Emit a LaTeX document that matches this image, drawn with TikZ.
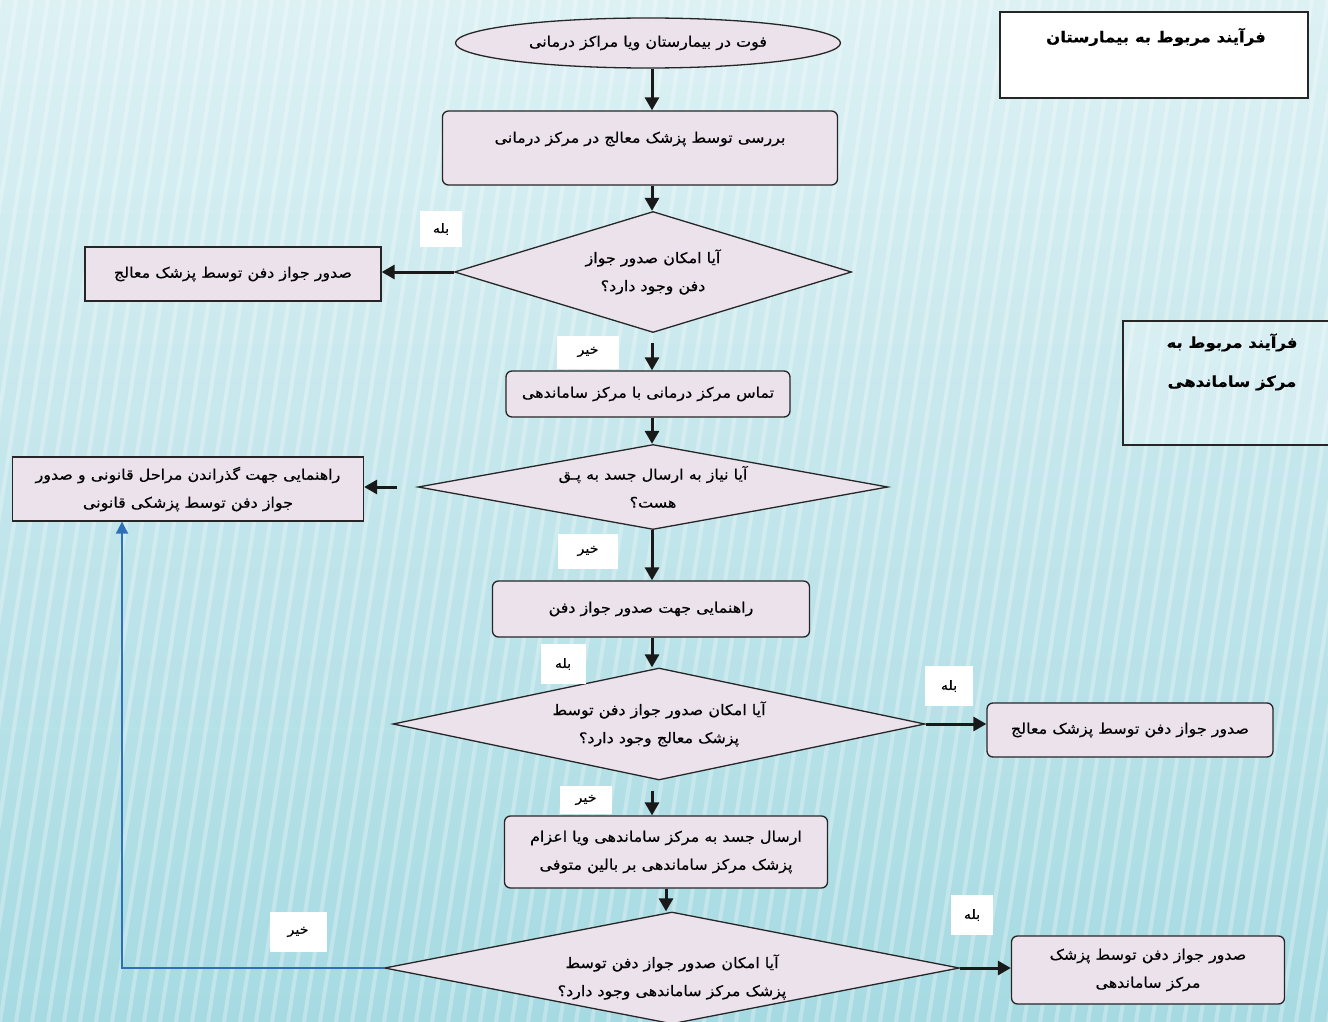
\documentclass[tikz,border=0pt]{standalone}
\usepackage{fontspec}
\usetikzlibrary{shapes.geometric,arrows.meta}
\TeXXeTstate=1
\newfontfamily\fa[Script=Arabic,FakeStretch=1.1,FakeBold=0.4]{DejaVu Sans}
\newcommand{\fat}[1]{{\fa\beginR #1\endR}}
\definecolor{nodefill}{HTML}{ECE2EC}
\definecolor{bgtop}{HTML}{DDF1F4}
\definecolor{bgbot}{HTML}{A6DAE2}
\definecolor{linkblue}{HTML}{2F6FB5}
\begin{document}
\begin{tikzpicture}[x=1pt,y=-1pt,
  txt/.style={font=\fontsize{14.5}{28}\selectfont},
  proc/.style={draw=black!85, line width=1.3pt, fill=nodefill, rounded corners=6pt,
    inner sep=0pt, txt, align=center},
  sqbox/.style={proc, rounded corners=0pt},
  decision/.style={diamond, draw=black!85, line width=1.3pt, fill=nodefill, inner sep=0pt,
    txt, align=center},
  lbl/.style={fill=white, inner sep=0pt, font=\fontsize{13}{15}\selectfont},
  flow/.style={line width=3pt, draw=black!90, -{Triangle[length=13pt,width=14pt]}},
  bflow/.style={line width=2pt, draw=linkblue, -{Triangle[length=12pt,width=12pt]}},
  titlebox/.style={draw=black!85, line width=1.3pt}
]
\useasboundingbox (0,0) rectangle (1328,1022);
% background
\shade[top color=bgtop, bottom color=bgbot] (0,0) rectangle (1328,1022);
\foreach \x in {-240,-224,...,1560} {
  \draw[white, opacity=0.28, line width=4pt] (\x,0) -- (\x-160,1022);
}
\coordinate (ax) at (652,0);
\coordinate (bturn) at (122,966);

% nodes
\node[ellipse, draw=black!85, line width=1.3pt, fill=nodefill, inner sep=0pt,
  minimum width=385pt, minimum height=50pt, txt]
  (e1) at (648,43) {\fat{فوت در بیمارستان ویا مراکز درمانی}};
\node[proc, minimum width=395pt, minimum height=74pt] (b1) at (640,148) {};
\node[txt, inner sep=0pt] (b1t) at (640,139)
  {\fat{بررسی توسط پزشک معالج در مرکز درمانی}};

\node[decision, minimum width=397pt, minimum height=121pt, aspect=3.3] (d1) at (653,272)
  {\fat{آیا امکان صدور جواز}\\\fat{دفن وجود دارد؟}};
\node[sqbox, minimum width=296pt, minimum height=54pt] (l1) at (233,274)
  {\fat{صدور جواز دفن توسط پزشک معالج}};

\node[proc, minimum width=284pt, minimum height=46pt] (b2) at (648,394)
  {\fat{تماس مرکز درمانی با مرکز ساماندهی}};

\node[decision, minimum width=470pt, minimum height=85pt, aspect=5.5] (d2) at (653,487)
  {\fat{آیا نیاز به ارسال جسد به پـق}\\\fat{هست؟}};
\node[sqbox, minimum width=351pt, minimum height=64pt] (l2) at (188,489)
  {\fat{راهنمایی جهت گذراندن مراحل قانونی و صدور}\\\fat{جواز دفن توسط پزشکی قانونی}};

\node[proc, minimum width=317pt, minimum height=56pt] (b3) at (651,609)
  {\fat{راهنمایی جهت صدور جواز دفن}};

\node[decision, minimum width=532pt, minimum height=112pt, aspect=4.75] (d3) at (659,724)
  {\fat{آیا امکان صدور جواز دفن توسط}\\\fat{پزشک معالج وجود دارد؟}};
\node[proc, minimum width=286pt, minimum height=54pt] (r3) at (1130,730)
  {\fat{صدور جواز دفن توسط پزشک معالج}};

\node[proc, minimum width=323pt, minimum height=72pt] (b4) at (666,852)
  {\fat{ارسال جسد به مرکز ساماندهی ویا اعزام}\\\fat{پزشک مرکز ساماندهی بر بالین متوفی}};

\node[decision, minimum width=575pt, minimum height=112pt, aspect=5.1] (d4) at (672,968) {};
\node[txt, align=center, inner sep=0pt] (d4t) at (672,977)
  {\fat{آیا امکان صدور جواز دفن توسط}\\\fat{پزشک مرکز ساماندهی وجود دارد؟}};
\node[proc, minimum width=273pt, minimum height=68pt] (r4) at (1148,970)
  {\fat{صدور جواز دفن توسط پزشک}\\\fat{مرکز ساماندهی}};

% title boxes
\node[titlebox, fill=white, minimum width=308pt, minimum height=86pt, inner sep=0pt] (tt1) at (1154,55) {};
\node[font=\bfseries\fontsize{15}{28}\selectfont, inner sep=0pt] (tt1t) at (1156,37)
  {\fat{فرآیند مربوط به بیمارستان}};
\draw[titlebox, fill=white, fill opacity=0.25] (1340,321) -- (1123,321) -- (1123,445) -- (1340,445);
\node[font=\bfseries\fontsize{15}{39}\selectfont, align=center, inner sep=0pt] (tt2t) at (1232,362)
  {\fat{فرآیند مربوط به}\\\fat{مرکز ساماندهی}};

% yes/no labels
\node[lbl, minimum width=42pt, minimum height=36pt] (y1) at (441,229) {\fat{بله}};
\node[lbl, minimum width=62pt, minimum height=33pt] (n1) at (588,352) {\fat{خیر}};
\node[lbl, minimum width=60pt, minimum height=35pt] (n2) at (588,551) {\fat{خیر}};
\node[lbl, minimum width=45pt, minimum height=40pt] (y2) at (563,664) {\fat{بله}};
\node[lbl, minimum width=48pt, minimum height=40pt] (y3) at (949,686) {\fat{بله}};
\node[lbl, minimum width=52pt, minimum height=28pt] (n3) at (586,800) {\fat{خیر}};
\node[lbl, minimum width=42pt, minimum height=40pt] (y4) at (972,915) {\fat{بله}};
\node[lbl, minimum width=57pt, minimum height=40pt] (n4) at (298,932) {\fat{خیر}};

% connectors
\draw[flow] (e1.south -| ax) -- (b1.north -| ax);
\draw[flow] (b1.south -| ax) -- (d1.north -| ax);
\draw[flow] (d1.west) -- (l1.east |- d1.west);
\draw[flow] ([yshift=-10pt]d1.south -| ax) -- (b2.north -| ax);
\draw[flow] (b2.south -| ax) -- (d2.north -| ax);
\draw[flow, shorten <=20pt] (d2.west) -- (l2.east |- d2.west);
\draw[flow] (d2.south -| ax) -- (b3.north -| ax);
\draw[flow] (b3.south -| ax) -- (d3.north -| ax);
\draw[flow] (d3.east) -- (r3.west |- d3.east);
\draw[flow] ([yshift=-10pt]d3.south -| ax) -- (b4.north -| ax);
\draw[flow] (b4.south) -- (d4.north -| b4.south);
\draw[flow] (d4.east) -- (r4.west |- d4.east);
\draw[bflow] (d4.west) -- (d4.west -| bturn) -- (l2.south -| bturn);
\end{tikzpicture}
\end{document}
